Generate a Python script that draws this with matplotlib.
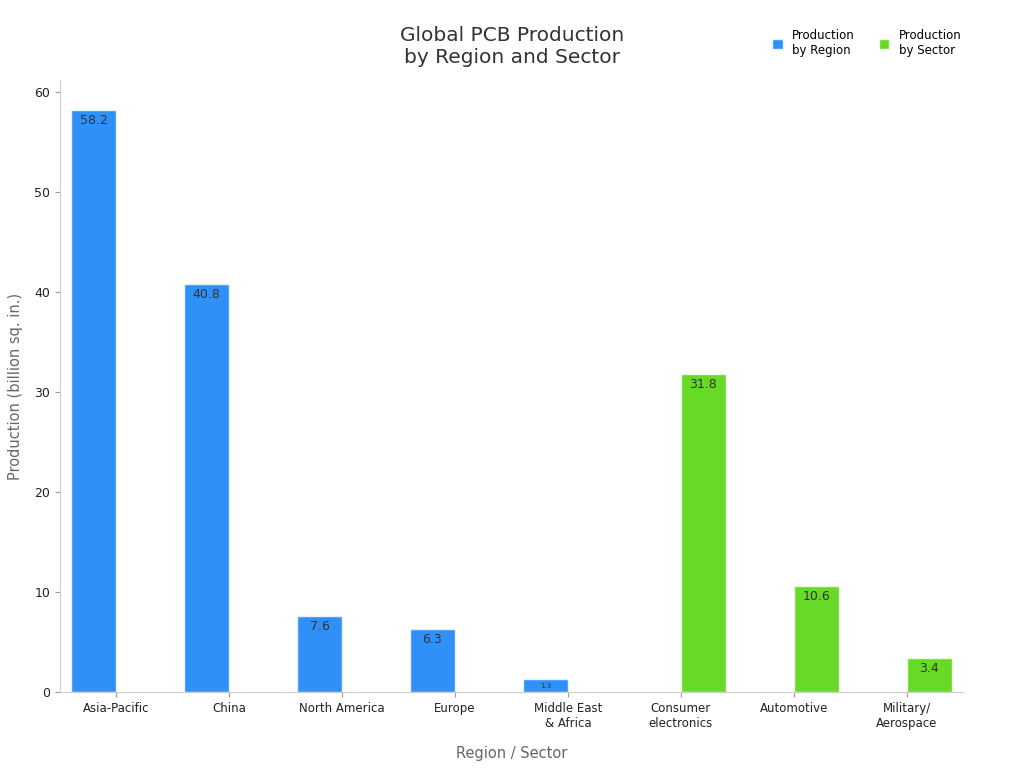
import matplotlib.pyplot as plt
import numpy as np

categories = ["Asia-Pacific", "China", "North America", "Europe", "Middle East\n& Africa",
              "Consumer\nelectronics", "Automotive", "Military/\nAerospace"]
region_vals = [58.2, 40.8, 7.6, 6.3, 1.3, None, None, None]
sector_vals = [None, None, None, None, None, 31.8, 10.6, 3.4]

fig = plt.figure(figsize=(10.24, 7.68), dpi=100)
ax = fig.add_axes([60/1024, 1-692/768, 903/1024, 612/768])
x = np.arange(len(categories))
w = 0.4
blue, green = "#2f91f7", "#66da26"
for i, v in enumerate(region_vals):
    if v is not None:
        ax.bar(x[i]-w/2, v, w, color=blue, edgecolor="#e8f1fb", linewidth=1,
               label="Production\nby Region" if i == 0 else None)
        fs = 5 if v < 3 else 9
        ax.text(x[i]-w/2, v-0.4, f"{v}", ha="center", va="top", fontsize=fs, color="#333333")
for i, v in enumerate(sector_vals):
    if v is not None:
        ax.bar(x[i]+w/2, v, w, color=green, edgecolor="#eef9e6", linewidth=1,
               label="Production\nby Sector" if i == 5 else None)
        ax.text(x[i]+w/2, v-0.4, f"{v}", ha="center", va="top", fontsize=9, color="#333333")

ax.set_xlim(-0.5, 7.5)
ax.set_ylim(0, 61.2)
ax.set_yticks([0, 10, 20, 30, 40, 50, 60])
ax.set_xticks(x)
ax.set_xticklabels(categories, fontsize=8.5, color="#222222")
ax.tick_params(axis="y", labelsize=9, colors="#222222")
ax.tick_params(color="#999999")
for s in ["top", "right"]:
    ax.spines[s].set_visible(False)
for s in ["left", "bottom"]:
    ax.spines[s].set_color("#cccccc")
ax.set_xlabel("Region / Sector", fontsize=10.5, color="#666666", labelpad=12)
ax.set_ylabel("Production (billion sq. in.)", fontsize=10.5, color="#666666", labelpad=8)
fig.text(0.5, 0.94, "Global PCB Production\nby Region and Sector", ha="center", va="center",
         fontsize=14.5, color="#333333")
ax.legend(loc="upper right", bbox_to_anchor=(1.01, 1.1), ncol=2, frameon=False, fontsize=8.5,
          handlelength=0.9, handleheight=0.9, columnspacing=2.0)
fig.savefig("out.png", dpi=100)
